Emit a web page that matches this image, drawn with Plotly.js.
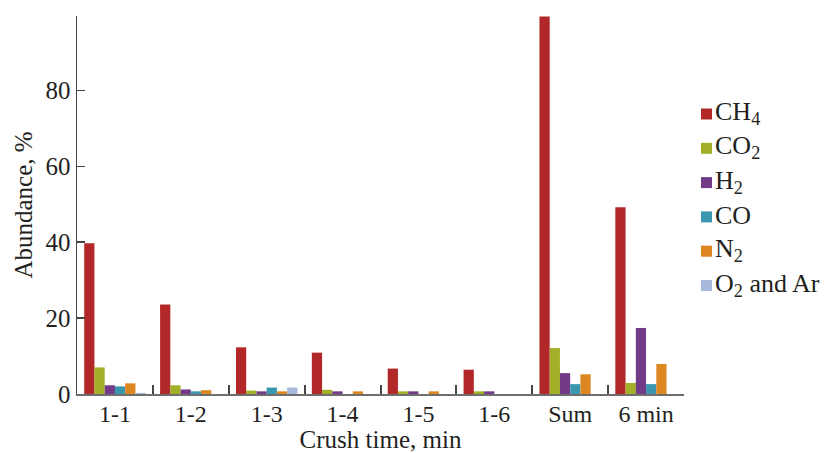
<!DOCTYPE html>
<html>
<head>
<meta charset="utf-8">
<script src="https://cdn.plot.ly/plotly-3.0.1.min.js"></script>
<style>
  html, body { margin: 0; padding: 0; background: #fff; }
  #chart { width: 826px; height: 453px; }
</style>
</head>
<body>
<div id="chart"></div>
<script>
// Crush stages
const categories = ['1-1', '1-2', '1-3', '1-4', '1-5', '1-6', 'Sum', '6 min'];

// Gas abundance, % per stage
const ch4   = [39.7, 23.6, 12.3, 10.9, 6.7, 6.4, 99.5, 49.2];
const co2   = [7.0, 2.3, 0.9, 1.1, 0.7, 0.7, 12.1, 2.9];
const h2    = [2.3, 1.2, 0.7, 0.7, 0.7, 0.7, 5.5, 17.4];
const co    = [2.0, 0.7, 1.7, 0, 0, 0, 2.6, 2.6];
const n2    = [2.8, 1.0, 0.7, 0.7, 0.7, 0, 5.2, 7.9];
const o2ar  = [0.3, 0, 1.7, 0, 0, 0, 0, 0];

const seriesNames = ['CH<sub>4</sub>', 'CO<sub>2</sub>', 'H<sub>2</sub>', 'CO', 'N<sub>2</sub>', 'O<sub>2</sub> and Ar'];
const seriesValues = [ch4, co2, h2, co, n2, o2ar];
const seriesColors = ['#b22828', '#a1b027', '#733a87', '#3a97ae', '#dc8720', '#a7b9dc'];

const W = 826, H = 453;
const M = { l: 77, r: 142, t: 16, b: 59 };
const plotW = W - M.l - M.r, plotH = H - M.t - M.b;

const traces = seriesValues.map((vals, i) => ({
  type: 'bar',
  name: seriesNames[i],
  x: categories,
  y: vals,
  marker: { color: seriesColors[i], line: { width: 0 } }
}));

const serif = 'Liberation Serif, Times New Roman, serif';
const ink = '#231f20';

// Legend: small colour squares with labels, stacked to the right of the plot
const legendLeft = 701, legendTop = 114, legendStep = 34.3, swatch = 11;
const toPaperX = px => (px - M.l) / plotW;
const toPaperY = py => (H - M.b - py) / plotH;

const legendShapes = seriesNames.map((_, i) => {
  const cy = legendTop + i * legendStep;
  return {
    type: 'rect', xref: 'paper', yref: 'paper',
    x0: toPaperX(legendLeft), x1: toPaperX(legendLeft + swatch),
    y0: toPaperY(cy + swatch / 2), y1: toPaperY(cy - swatch / 2),
    fillcolor: seriesColors[i], line: { width: 0 }
  };
});

const legendLabels = seriesNames.map((name, i) => ({
  xref: 'paper', yref: 'paper',
  x: toPaperX(legendLeft + swatch + 3), y: toPaperY(legendTop + i * legendStep),
  xanchor: 'left', yanchor: 'middle',
  xshift: -2, yshift: 1,
  text: name, showarrow: false,
  font: { family: serif, size: 26, color: ink }
}));

const layout = {
  width: W,
  height: H,
  margin: M,
  paper_bgcolor: '#ffffff',
  plot_bgcolor: '#ffffff',
  barmode: 'group',
  bargap: 0.19,
  bargroupgap: 0,
  font: { family: serif, color: ink, size: 25 },
  showlegend: false,
  shapes: legendShapes,
  annotations: legendLabels,
  xaxis: {
    type: 'category',
    showline: true,
    linecolor: '#6e6e6e',
    linewidth: 2,
    ticks: 'inside',
    tickson: 'boundaries',
    ticklen: 9,
    tickwidth: 2,
    tickcolor: '#444',
    ticklabelstandoff: -3,
    showgrid: false,
    zeroline: false,
    tickfont: { family: serif, size: 24, color: ink },
    title: { text: 'Crush time, min', font: { family: serif, size: 25, color: ink }, standoff: 4 }
  },
  yaxis: {
    range: [0, 99.6],
    tickvals: [0, 20, 40, 60, 80],
    showline: true,
    linecolor: '#444',
    linewidth: 1.5,
    ticks: 'inside',
    ticklen: 8,
    tickwidth: 1.5,
    tickcolor: '#444',
    showgrid: false,
    zeroline: false,
    tickfont: { family: serif, size: 25, color: ink },
    title: { text: 'Abundance, %', font: { family: serif, size: 25, color: ink }, standoff: 6 }
  }
};

Plotly.newPlot('chart', traces, layout, { displayModeBar: false, staticPlot: true });
</script>
</body>
</html>
